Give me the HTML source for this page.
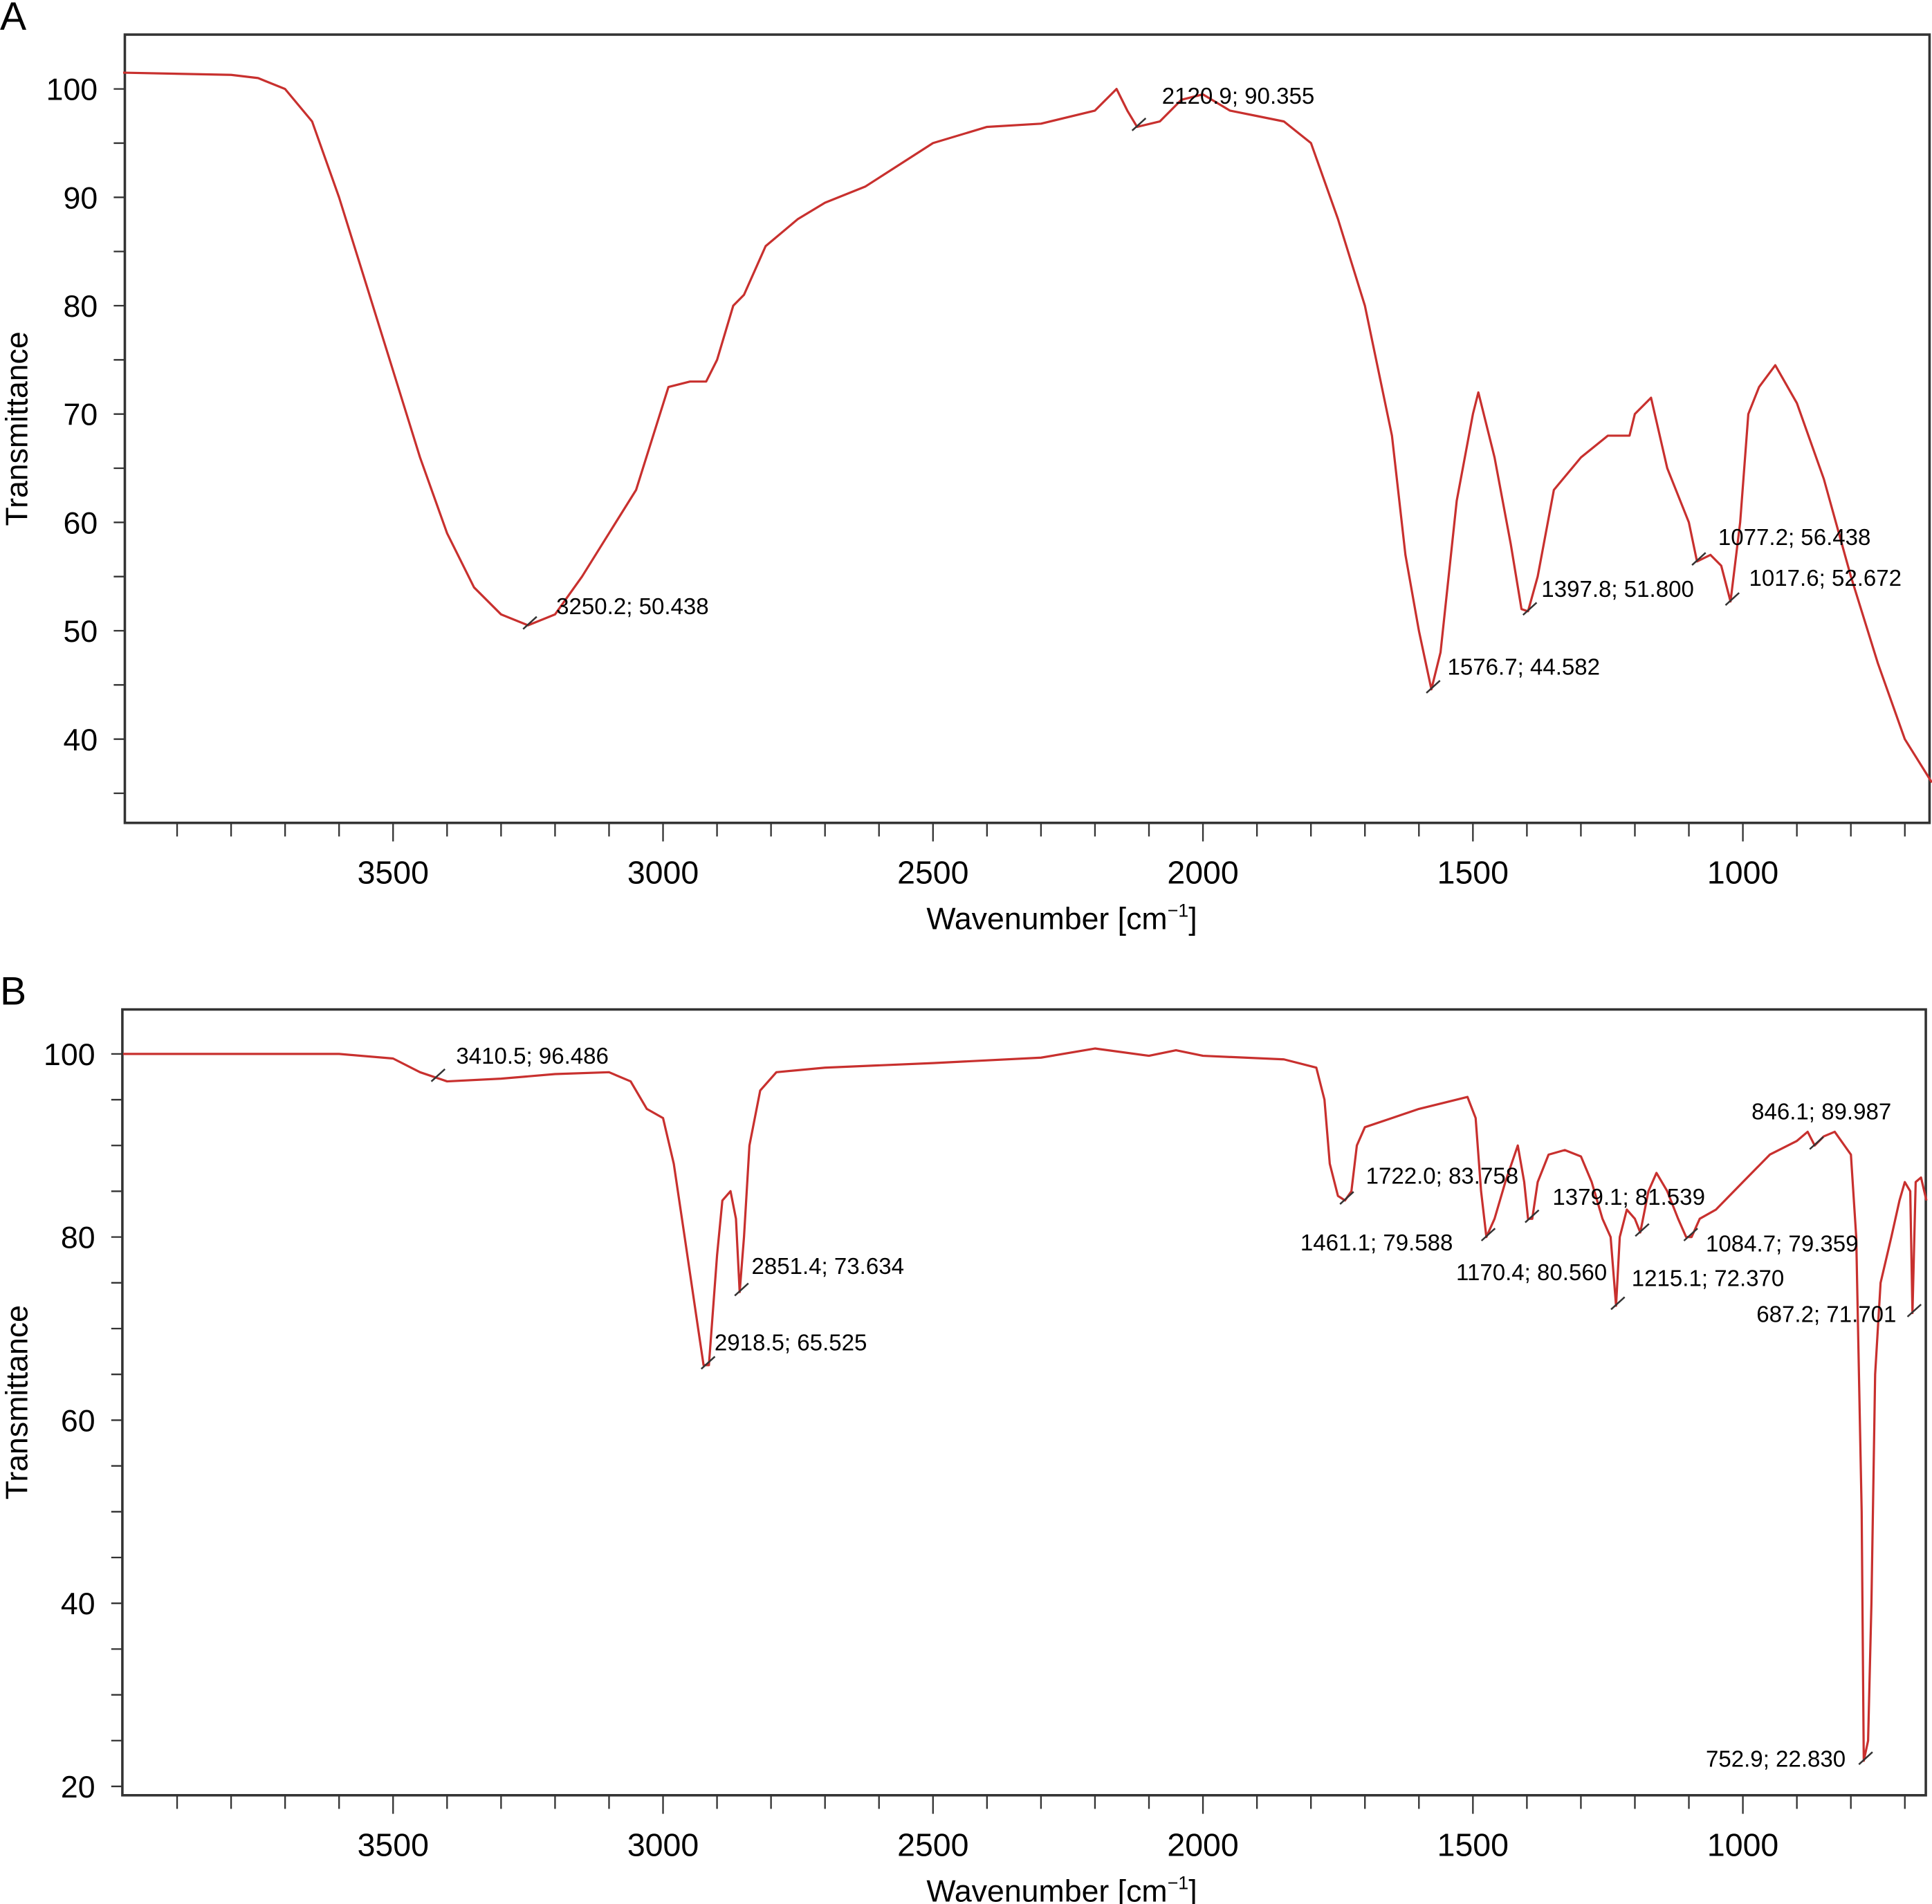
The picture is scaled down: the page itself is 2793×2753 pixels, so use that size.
<!DOCTYPE html>
<html><head><meta charset="utf-8"><style>
html,body{margin:0;padding:0;background:#fff;}
svg{display:block;font-family:"Liberation Sans",sans-serif;}
</style></head><body>
<svg id="s" width="2793" height="2753" viewBox="0 0 1563 1541" preserveAspectRatio="none" xmlns="http://www.w3.org/2000/svg"></svg>
<script>
const aWave=[4000,3800,3750,3700,3650,3600,3550,3500,3450,3400,3350,3300,3250,3200,3150,3100,3050,2990,2950,2920,2900,2870,2850,2810,2750,2700,2625,2500,2400,2300,2200,2160,2140,2122,2080,2040,2000,1950,1900,1850,1800,1750,1700,1650,1625,1600,1577,1560,1530,1500,1490,1460,1430,1410,1398,1380,1350,1300,1250,1210,1200,1170,1140,1100,1085,1060,1040,1023,1005,990,970,940,900,850,800,750,700,650];
const aT=[101.5,101.3,101,100,97,90,82,74,66,59,54,51.5,50.5,51.5,55,59,63,72.5,73,73,75,80,81,85.5,88,89.5,91,95,96.5,96.8,98,100,98,96.5,97,99,99.5,98,97.5,97,95,88,80,68,57,50,44.6,48,62,70,72,66,58,52,51.8,55,63,66,68,68,70,71.5,65,60,56.4,57,56,52.7,60,70,72.5,74.5,71,64,55,47,40,36];
const aMarks=[3250,2122,1577,1398,1085,1023];
const aLabels=["3250.2; 50.438","2120.9; 90.355","1576.7; 44.582","1397.8; 51.800","1077.2; 56.438","1017.6; 52.672"];
const aLabelPos=[[450,497],[940,84],[1171,546],[1247,483],[1390,441],[1415,474]];
const bWave=[4000,3600,3500,3450,3400,3300,3200,3100,3060,3030,3000,2980,2960,2935,2925,2915,2900,2890,2875,2865,2858,2850,2840,2820,2790,2700,2500,2300,2200,2100,2050,2000,1850,1790,1775,1765,1750,1737,1725,1715,1700,1650,1600,1530,1510,1495,1485,1475,1460,1440,1417,1405,1398,1390,1380,1360,1330,1300,1280,1260,1245,1235,1228,1215,1200,1190,1175,1160,1140,1120,1105,1095,1080,1050,1000,950,900,880,867,850,830,800,790,780,776,768,762,755,745,725,710,700,690,686,680,670,660];
const bT=[100,100,99.5,98,97,97.3,97.8,98,97,94,93,88,80,70,66,66,78,84,85,82,74,80,90,96,98,98.5,99,99.6,100.6,99.8,100.4,99.8,99.4,98.5,95,88,84.5,84,85,90,92,93,94,95,95.3,93,85,80,82,86,90,86,82,82,86,89,89.5,88.8,86,82,80,72.5,80,83,82,80.5,85,87,85,82,80,80,82,83,86,89,90.5,91.5,90,91,91.5,89,80,50,22.8,25,40,65,75,80,84,86,85,71.7,86,86.5,84];
const bMarks=[3420,2920,2858,1737,1475,1394,1190,1235,1100,867,686,776];
const bLabels=["3410.5; 96.486","2918.5; 65.525","2851.4; 73.634","1722.0; 83.758","1461.1; 79.588","1379.1; 81.539","1170.4; 80.560","1215.1; 72.370","1084.7; 79.359","846.1; 89.987","687.2; 71.701","752.9; 22.830"];
const bLabelPos=[[369,861],[578,1093],[608,1031],[1105,958],[1052,1012],[1256,975],[1178,1036],[1320,1041],[1380,1013],[1417,906],[1421,1070],[1380,1430]];
const aYTicks=[40,50,60,70,80,90,100];
const bYTicks=[20,40,60,80,100];
const xTicks=[3500,3000,2500,2000,1500,1000];
const NS="http://www.w3.org/2000/svg";
const svg=document.getElementById('s');
function mk(t,a,p){const e=document.createElementNS(NS,t);for(const k in a)e.setAttribute(k,a[k]);(p||svg).appendChild(e);return e;}
function interp(ws,ts,w){for(let i=0;i<ws.length-1;i++){if(w<=ws[i]&&w>=ws[i+1]){const f=(ws[i]-w)/(ws[i]-ws[i+1]);return ts[i]+f*(ts[i+1]-ts[i]);}}return ts[ts.length-1];}
function panel(cfg){
  const g=mk('g',{});
  
  
  const X=w=>318+(3500-w)/500*218.4;
  const Y=v=>cfg.y100+(100-v)*cfg.ppu;
  const box=mk('rect',{x:cfg.L,y:cfg.top,width:cfg.R-cfg.L,height:cfg.bot-cfg.top,fill:'none',stroke:'#333','stroke-width':2},g);
  
  for(let w=3900;w>=700;w-=100){const xx=X(w);if(xx<cfg.L||xx>cfg.R)continue;const maj=w%500===0;
    mk('line',{x1:xx,x2:xx,y1:cfg.bot,y2:cfg.bot+(maj?15:11),stroke:'#333','stroke-width':1.3},g);}
  xTicks.forEach(w=>{const t=mk('text',{x:X(w),y:cfg.bot+49,'font-size':26,'text-anchor':'middle'},g);t.textContent=w;
    });
  for(let v=cfg.minY;v<=100.1;v+=5){const yy=Y(v);mk('line',{x1:cfg.L-9,x2:cfg.L,y1:yy,y2:yy,stroke:'#333','stroke-width':1.3},g);}
  cfg.yTicks.forEach(v=>{const t=mk('text',{x:cfg.L-22,y:Y(v)+9,'font-size':25,'text-anchor':'end'},g);t.textContent=v;
    });
  const yt=mk('text',{x:0,y:0,'font-size':25,'text-anchor':'middle',transform:`translate(22,${(cfg.top+cfg.bot)/2}) rotate(-90)`},g);
  yt.textContent='Transmittance';
  const xt=mk('text',{x:859,y:cfg.bot+86,'font-size':25,'text-anchor':'middle'},g);
  xt.innerHTML='Wavenumber [cm<tspan dy="-10" font-size="15">−1</tspan><tspan dy="10">]</tspan>';
  
  const pl=mk('text',{x:0,y:cfg.top-4,'font-size':32},g);pl.textContent=cfg.letter;
  
  const pts=cfg.w.map((w,i)=>X(w).toFixed(1)+','+Y(cfg.t[i]).toFixed(1)).join(' ');
  const line=mk('polyline',{points:pts,fill:'none',stroke:'#c8302e','stroke-width':1.8,'stroke-linejoin':'round'},g);
  
  cfg.marks.forEach((m,i)=>{const xx=X(m),yy=Y(interp(cfg.w,cfg.t,m));
    mk('line',{x1:xx-4,y1:yy+3,x2:xx+7,y2:yy-7,stroke:'#333','stroke-width':1.4},g);
    const p=cfg.pos[i];
    const t=mk('text',{x:p[0],y:p[1],'font-size':18.5},g);
    t.textContent=cfg.labels[i];});
}
panel({name:'panel-a',letter:'A',L:101,R:1561,top:28,bot:666,y100:72,ppu:8.77,minY:35,yTicks:aYTicks,w:aWave,t:aT,marks:aMarks,labels:aLabels,pos:aLabelPos});
panel({name:'panel-b',letter:'B',L:99,R:1558,top:817,bot:1453,y100:853,ppu:7.41,minY:20,yTicks:bYTicks,w:bWave,t:bT,marks:bMarks,labels:bLabels,pos:bLabelPos});
</script>
</body></html>
